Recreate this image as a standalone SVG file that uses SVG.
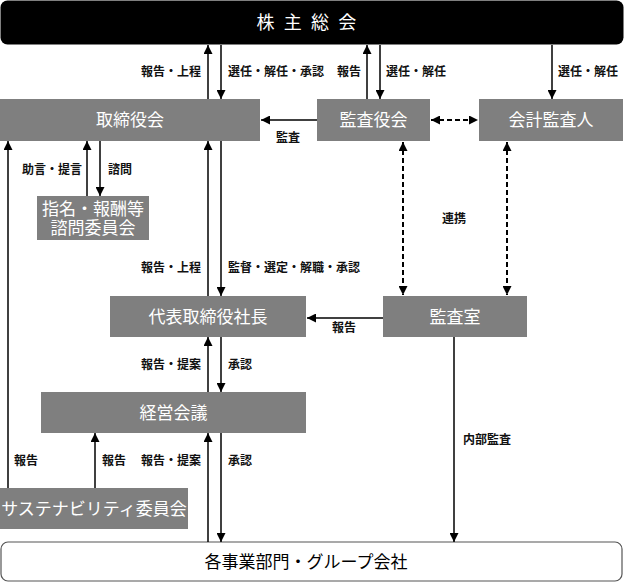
<svg xmlns="http://www.w3.org/2000/svg" width="624" height="583" viewBox="0 0 624 583">
<defs>
<marker id="ah" viewBox="0 0 10 10" refX="10" refY="5" markerWidth="9" markerHeight="9" markerUnits="userSpaceOnUse" orient="auto-start-reverse">
<path d="M0,0 L10,5 L0,10 z" fill="#000"/>
</marker>
<style>
.box{fill:#7f7f7f;}
.bt{font-family:"Noto Sans CJK JP","Noto Sans",sans-serif;font-size:17px;fill:#fff;text-anchor:middle;}
.lb{font-family:"Noto Sans CJK JP","Noto Sans",sans-serif;font-size:12px;font-weight:bold;fill:#111;}
.ln{stroke:#000;stroke-width:1.5;fill:none;}
.dl{stroke:#000;stroke-width:2;fill:none;stroke-dasharray:5,3;}
.e{text-anchor:end;}
</style>
</defs>
<rect width="624" height="583" fill="#fff"/>
<g id="shareholders">
<rect x="0.5" y="0.5" width="623" height="44" rx="7" fill="#000"/>
<text x="311" y="29" font-family="Noto Sans CJK JP,sans-serif" font-size="18" fill="#fff" text-anchor="middle" letter-spacing="9.3">株主総会</text>
</g>
<g id="board">
<rect class="box" x="0" y="99" width="260" height="42"/>
<text class="bt" x="130" y="126">取締役会</text>
</g>
<g id="auditboard">
<rect class="box" x="317" y="99" width="113" height="42"/>
<text class="bt" x="373.5" y="126">監査役会</text>
</g>
<g id="accountant">
<rect class="box" x="479" y="99" width="144" height="42"/>
<text class="bt" x="551" y="126">会計監査人</text>
</g>
<g id="nomination">
<rect class="box" x="37" y="196" width="112" height="44"/>
<text class="bt"><tspan x="93" y="215">指名・報酬等</tspan><tspan x="93" y="234">諮問委員会</tspan></text>
</g>
<g id="president">
<rect class="box" x="110" y="296" width="196" height="41"/>
<text class="bt" x="208" y="323">代表取締役社長</text>
</g>
<g id="auditoffice">
<rect class="box" x="383" y="296" width="144" height="41"/>
<text class="bt" x="455" y="323">監査室</text>
</g>
<g id="mgmt">
<rect class="box" x="41" y="392" width="265" height="41"/>
<text class="bt" x="173.5" y="419">経営会議</text>
</g>
<g id="sustain">
<rect class="box" x="0" y="488" width="188" height="41"/>
<text class="bt" x="94" y="515">サステナビリティ委員会</text>
</g>
<g id="business">
<rect x="1" y="542" width="621" height="39" rx="7" fill="#fff" stroke="#555" stroke-width="1.2"/>
<text x="306" y="568" font-family="Noto Sans CJK JP,sans-serif" font-size="17" fill="#000" text-anchor="middle">各事業部門・グループ会社</text>
</g>
<g id="connectors">
<line class="ln" x1="208" y1="99" x2="208" y2="45" marker-end="url(#ah)"/>
<line class="ln" x1="221" y1="45" x2="221" y2="99" marker-end="url(#ah)"/>
<line class="ln" x1="367" y1="99" x2="367" y2="45" marker-end="url(#ah)"/>
<line class="ln" x1="380" y1="45" x2="380" y2="99" marker-end="url(#ah)"/>
<line class="ln" x1="552" y1="45" x2="552" y2="99" marker-end="url(#ah)"/>
<line class="dl" x1="431" y1="120" x2="478" y2="120" marker-start="url(#ah)" marker-end="url(#ah)"/>
<line class="ln" x1="317" y1="120" x2="261" y2="120" marker-end="url(#ah)"/>
<line class="ln" x1="87" y1="196" x2="87" y2="141" marker-end="url(#ah)"/>
<line class="ln" x1="100" y1="141" x2="100" y2="196" marker-end="url(#ah)"/>
<line class="ln" x1="8" y1="488" x2="8" y2="141" marker-end="url(#ah)"/>
<line class="ln" x1="208" y1="296" x2="208" y2="141" marker-end="url(#ah)"/>
<line class="ln" x1="221" y1="141" x2="221" y2="296" marker-end="url(#ah)"/>
<line class="dl" x1="403" y1="142" x2="403" y2="295" marker-start="url(#ah)" marker-end="url(#ah)"/>
<line class="dl" x1="507" y1="142" x2="507" y2="295" marker-start="url(#ah)" marker-end="url(#ah)"/>
<line class="ln" x1="383" y1="318" x2="307" y2="318" marker-end="url(#ah)"/>
<line class="ln" x1="208" y1="392" x2="208" y2="337" marker-end="url(#ah)"/>
<line class="ln" x1="221" y1="337" x2="221" y2="392" marker-end="url(#ah)"/>
<line class="ln" x1="95" y1="488" x2="95" y2="433" marker-end="url(#ah)"/>
<line class="ln" x1="208" y1="542" x2="208" y2="433" marker-end="url(#ah)"/>
<line class="ln" x1="221" y1="433" x2="221" y2="542" marker-end="url(#ah)"/>
<line class="ln" x1="454" y1="337" x2="454" y2="542" marker-end="url(#ah)"/>
</g>
<g id="labels">
<text class="lb e" x="201" y="76">報告・上程</text>
<text class="lb" x="228" y="76">選任・解任・承認</text>
<text class="lb e" x="361" y="76">報告</text>
<text class="lb" x="386" y="76">選任・解任</text>
<text class="lb" x="558" y="76">選任・解任</text>
<text class="lb" x="276" y="142">監査</text>
<text class="lb" x="22" y="174">助言・提言</text>
<text class="lb" x="108" y="174">諮問</text>
<text class="lb e" x="201" y="272">報告・上程</text>
<text class="lb" x="228" y="272">監督・選定・解職・承認</text>
<text class="lb" x="442" y="223">連携</text>
<text class="lb" x="332" y="332">報告</text>
<text class="lb e" x="201" y="369">報告・提案</text>
<text class="lb" x="228" y="369">承認</text>
<text class="lb" x="14" y="465">報告</text>
<text class="lb" x="102" y="465">報告</text>
<text class="lb e" x="201" y="465">報告・提案</text>
<text class="lb" x="228" y="465">承認</text>
<text class="lb" x="463" y="444">内部監査</text>
</g>
</svg>
